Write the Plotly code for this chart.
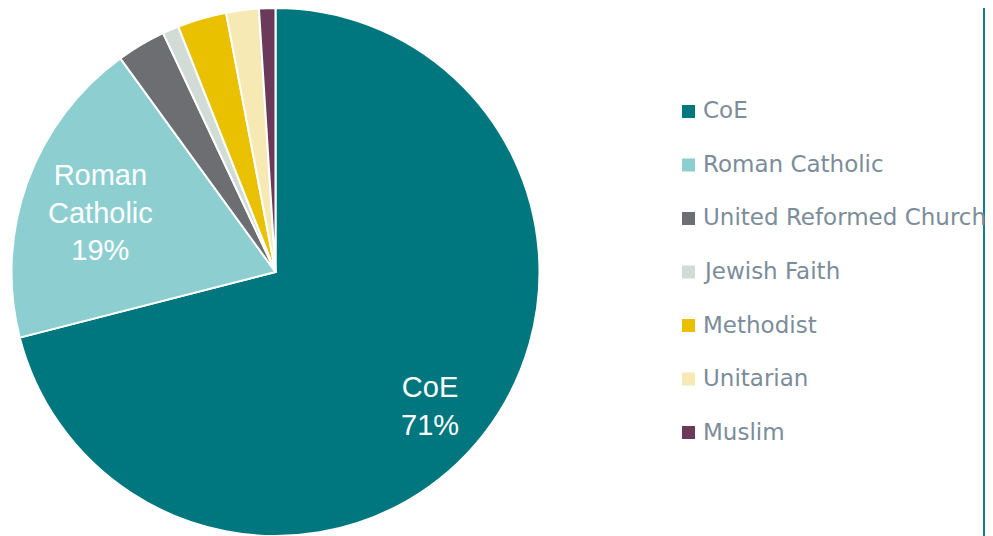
import plotly.graph_objects as go

# Denomination shares (%), read clockwise from 12 o'clock
labels = ["CoE", "Roman Catholic", "United Reformed Church", "Jewish Faith",
          "Methodist", "Unitarian", "Muslim"]
values = [71, 19, 3, 1, 3, 2, 1]
colors = ["#00777f", "#8dcfd1", "#6d6e71", "#d1dcd6", "#e9c100", "#f7e9b3", "#6b3a5b"]
# in-slice labels (only the two big slices carry one)
slice_labels = {"CoE": ("CoE", 430, 406), "Roman Catholic": ("Roman<br>Catholic", 100, 213)}

# page body has an 8px margin, so the figure is shrunk and shifted by that much
OFF = 8
W, H = 993 - OFF, 536 - OFF


def px(x):
    return (x - OFF) / W


def py(y):
    return 1 - (y - OFF) / H


fig = go.Figure()

# pie fills the full height (radius 264), centred at x=275.5
fig.add_trace(go.Pie(
    labels=labels,
    values=values,
    textinfo="none",
    marker=dict(colors=colors, line=dict(color="white", width=2)),
    sort=False,
    direction="clockwise",
    rotation=0,
    showlegend=False,
    hoverinfo="label+percent",
    domain=dict(x=[px(11.5), px(539.5)], y=[0, 1]),
))

shapes = []
annotations = []
total = sum(values)
for lab, val in zip(labels, values):
    if lab in slice_labels:
        txt, cx, cy = slice_labels[lab]
        annotations.append(dict(
            text=f"{txt}<br>{round(100 * val / total)}%",
            xref="paper", yref="paper", x=px(cx), y=py(cy),
            xanchor="center", yanchor="middle", showarrow=False,
            font=dict(size=29, color="white", family="Liberation Sans, Arial"),
        ))

# hand-drawn legend, so the row spacing matches the source
for i, (lab, col) in enumerate(zip(labels, colors)):
    yc = 111.5 + i * 53.5
    shapes.append(dict(
        type="rect", xref="paper", yref="paper",
        x0=px(682), x1=px(695), y0=py(yc + 6.5), y1=py(yc - 6.5),
        fillcolor=col, line=dict(width=0),
    ))
    annotations.append(dict(
        text=lab, xref="paper", yref="paper",
        x=px(701), y=py(yc - 1), xanchor="left", yanchor="middle",
        showarrow=False,
        font=dict(size=23, color="#7b8c9a", family="DejaVu Sans"),
    ))

# right-hand divider
shapes.append(dict(
    type="line", xref="paper", yref="paper",
    x0=px(984), x1=px(984), y0=0, y1=1,
    line=dict(color="#11808c", width=2),
))

fig.update_layout(
    width=W,
    height=H,
    margin=dict(l=0, r=0, t=0, b=0),
    paper_bgcolor="white",
    plot_bgcolor="white",
    shapes=shapes,
    annotations=annotations,
)

fig.write_html("out.html")
